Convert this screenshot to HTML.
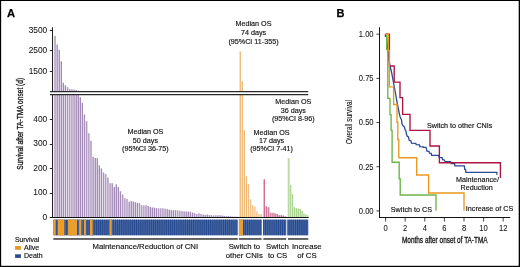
<!DOCTYPE html>
<html><head><meta charset="utf-8"><style>
html,body{margin:0;padding:0;background:#fff;width:520px;height:267px;overflow:hidden}
svg text{font-family:"Liberation Sans",sans-serif}
svg{will-change:transform}
svg text{stroke:#111;stroke-width:0.15px}
svg text.c{stroke-width:0.3px}
svg text.c2{stroke-width:0.12px}
svg text.t{stroke-width:0.05px}
svg text.b{stroke:#000;stroke-width:0.25px}
</style></head><body>
<svg width="520" height="267" viewBox="0 0 520 267" style="position:absolute;left:0;top:0">
<rect x="0" y="0" width="520" height="267" fill="#fff"/>
<rect x="53.75" y="95.10" width="1.7" height="122.40" fill="#d5c8df"/>
<rect x="54.80" y="95.10" width="0.65" height="122.40" fill="#8566a0"/>
<rect x="53.75" y="35.91" width="1.7" height="55.59" fill="#d5c8df"/>
<rect x="54.80" y="35.91" width="0.65" height="55.59" fill="#8566a0"/>
<rect x="55.87" y="95.10" width="1.7" height="122.40" fill="#d5c8df"/>
<rect x="56.92" y="95.10" width="0.65" height="122.40" fill="#8566a0"/>
<rect x="55.87" y="44.53" width="1.7" height="46.97" fill="#d5c8df"/>
<rect x="56.92" y="44.53" width="0.65" height="46.97" fill="#8566a0"/>
<rect x="57.98" y="95.10" width="1.7" height="122.40" fill="#d5c8df"/>
<rect x="59.03" y="95.10" width="0.65" height="122.40" fill="#8566a0"/>
<rect x="57.98" y="49.84" width="1.7" height="41.66" fill="#d5c8df"/>
<rect x="59.03" y="49.84" width="0.65" height="41.66" fill="#8566a0"/>
<rect x="60.10" y="95.10" width="1.7" height="122.40" fill="#d5c8df"/>
<rect x="61.15" y="95.10" width="0.65" height="122.40" fill="#8566a0"/>
<rect x="60.10" y="61.45" width="1.7" height="30.05" fill="#d5c8df"/>
<rect x="61.15" y="61.45" width="0.65" height="30.05" fill="#8566a0"/>
<rect x="62.22" y="95.10" width="1.7" height="122.40" fill="#d5c8df"/>
<rect x="63.27" y="95.10" width="0.65" height="122.40" fill="#8566a0"/>
<rect x="62.22" y="82.78" width="1.7" height="8.72" fill="#d5c8df"/>
<rect x="63.27" y="82.78" width="0.65" height="8.72" fill="#8566a0"/>
<rect x="64.33" y="95.10" width="1.7" height="122.40" fill="#d5c8df"/>
<rect x="65.38" y="95.10" width="0.65" height="122.40" fill="#8566a0"/>
<rect x="64.33" y="85.20" width="1.7" height="6.30" fill="#d5c8df"/>
<rect x="65.38" y="85.20" width="0.65" height="6.30" fill="#8566a0"/>
<rect x="66.45" y="95.10" width="1.7" height="122.40" fill="#d5c8df"/>
<rect x="67.50" y="95.10" width="0.65" height="122.40" fill="#8566a0"/>
<rect x="66.45" y="87.19" width="1.7" height="4.31" fill="#d5c8df"/>
<rect x="67.50" y="87.19" width="0.65" height="4.31" fill="#8566a0"/>
<rect x="68.56" y="95.10" width="1.7" height="122.40" fill="#d5c8df"/>
<rect x="69.61" y="95.10" width="0.65" height="122.40" fill="#8566a0"/>
<rect x="68.56" y="89.10" width="1.7" height="2.40" fill="#d5c8df"/>
<rect x="69.61" y="89.10" width="0.65" height="2.40" fill="#8566a0"/>
<rect x="70.68" y="95.10" width="1.7" height="122.40" fill="#d5c8df"/>
<rect x="71.73" y="95.10" width="0.65" height="122.40" fill="#8566a0"/>
<rect x="70.68" y="89.26" width="1.7" height="2.24" fill="#d5c8df"/>
<rect x="71.73" y="89.26" width="0.65" height="2.24" fill="#8566a0"/>
<rect x="72.80" y="95.10" width="1.7" height="122.40" fill="#d5c8df"/>
<rect x="73.85" y="95.10" width="0.65" height="122.40" fill="#8566a0"/>
<rect x="72.80" y="89.69" width="1.7" height="1.81" fill="#d5c8df"/>
<rect x="73.85" y="89.69" width="0.65" height="1.81" fill="#8566a0"/>
<rect x="74.91" y="95.10" width="1.7" height="122.40" fill="#d5c8df"/>
<rect x="75.96" y="95.10" width="0.65" height="122.40" fill="#8566a0"/>
<rect x="74.91" y="90.10" width="1.7" height="1.40" fill="#d5c8df"/>
<rect x="75.96" y="90.10" width="0.65" height="1.40" fill="#8566a0"/>
<rect x="77.03" y="95.10" width="1.7" height="122.40" fill="#d5c8df"/>
<rect x="78.08" y="95.10" width="0.65" height="122.40" fill="#8566a0"/>
<rect x="77.03" y="90.71" width="1.7" height="0.79" fill="#d5c8df"/>
<rect x="78.08" y="90.71" width="0.65" height="0.79" fill="#8566a0"/>
<rect x="79.15" y="97.20" width="1.7" height="120.30" fill="#d5c8df"/>
<rect x="80.20" y="97.20" width="0.65" height="120.30" fill="#8566a0"/>
<rect x="81.26" y="102.84" width="1.7" height="114.66" fill="#d5c8df"/>
<rect x="82.31" y="102.84" width="0.65" height="114.66" fill="#8566a0"/>
<rect x="83.38" y="114.60" width="1.7" height="102.90" fill="#d5c8df"/>
<rect x="84.43" y="114.60" width="0.65" height="102.90" fill="#8566a0"/>
<rect x="85.49" y="121.22" width="1.7" height="96.28" fill="#d5c8df"/>
<rect x="86.54" y="121.22" width="0.65" height="96.28" fill="#8566a0"/>
<rect x="87.61" y="133.22" width="1.7" height="84.28" fill="#d5c8df"/>
<rect x="88.66" y="133.22" width="0.65" height="84.28" fill="#8566a0"/>
<rect x="89.73" y="140.81" width="1.7" height="76.69" fill="#d5c8df"/>
<rect x="90.78" y="140.81" width="0.65" height="76.69" fill="#8566a0"/>
<rect x="91.84" y="156.74" width="1.7" height="60.76" fill="#d5c8df"/>
<rect x="92.89" y="156.74" width="0.65" height="60.76" fill="#8566a0"/>
<rect x="93.96" y="157.97" width="1.7" height="59.53" fill="#d5c8df"/>
<rect x="95.01" y="157.97" width="0.65" height="59.53" fill="#8566a0"/>
<rect x="96.08" y="158.21" width="1.7" height="59.29" fill="#d5c8df"/>
<rect x="97.13" y="158.21" width="0.65" height="59.29" fill="#8566a0"/>
<rect x="98.19" y="165.31" width="1.7" height="52.19" fill="#d5c8df"/>
<rect x="99.24" y="165.31" width="0.65" height="52.19" fill="#8566a0"/>
<rect x="100.31" y="168.50" width="1.7" height="49.00" fill="#d5c8df"/>
<rect x="101.36" y="168.50" width="0.65" height="49.00" fill="#8566a0"/>
<rect x="102.42" y="172.42" width="1.7" height="45.08" fill="#d5c8df"/>
<rect x="103.47" y="172.42" width="0.65" height="45.08" fill="#8566a0"/>
<rect x="104.54" y="174.13" width="1.7" height="43.37" fill="#d5c8df"/>
<rect x="105.59" y="174.13" width="0.65" height="43.37" fill="#8566a0"/>
<rect x="106.66" y="177.56" width="1.7" height="39.94" fill="#d5c8df"/>
<rect x="107.71" y="177.56" width="0.65" height="39.94" fill="#8566a0"/>
<rect x="108.77" y="183.20" width="1.7" height="34.30" fill="#d5c8df"/>
<rect x="109.82" y="183.20" width="0.65" height="34.30" fill="#8566a0"/>
<rect x="110.89" y="183.20" width="1.7" height="34.30" fill="#d5c8df"/>
<rect x="111.94" y="183.20" width="0.65" height="34.30" fill="#8566a0"/>
<rect x="113.01" y="187.12" width="1.7" height="30.38" fill="#d5c8df"/>
<rect x="114.06" y="187.12" width="0.65" height="30.38" fill="#8566a0"/>
<rect x="115.12" y="184.43" width="1.7" height="33.07" fill="#d5c8df"/>
<rect x="116.17" y="184.43" width="0.65" height="33.07" fill="#8566a0"/>
<rect x="117.24" y="187.12" width="1.7" height="30.38" fill="#d5c8df"/>
<rect x="118.29" y="187.12" width="0.65" height="30.38" fill="#8566a0"/>
<rect x="119.35" y="191.28" width="1.7" height="26.22" fill="#d5c8df"/>
<rect x="120.40" y="191.28" width="0.65" height="26.22" fill="#8566a0"/>
<rect x="121.47" y="194.47" width="1.7" height="23.03" fill="#d5c8df"/>
<rect x="122.52" y="194.47" width="0.65" height="23.03" fill="#8566a0"/>
<rect x="123.59" y="198.15" width="1.7" height="19.35" fill="#d5c8df"/>
<rect x="124.64" y="198.15" width="0.65" height="19.35" fill="#8566a0"/>
<rect x="125.70" y="199.12" width="1.7" height="18.38" fill="#d5c8df"/>
<rect x="126.75" y="199.12" width="0.65" height="18.38" fill="#8566a0"/>
<rect x="127.82" y="201.82" width="1.7" height="15.68" fill="#d5c8df"/>
<rect x="128.87" y="201.82" width="0.65" height="15.68" fill="#8566a0"/>
<rect x="129.94" y="201.09" width="1.7" height="16.41" fill="#d5c8df"/>
<rect x="130.99" y="201.09" width="0.65" height="16.41" fill="#8566a0"/>
<rect x="132.05" y="201.57" width="1.7" height="15.93" fill="#d5c8df"/>
<rect x="133.10" y="201.57" width="0.65" height="15.93" fill="#8566a0"/>
<rect x="134.17" y="202.31" width="1.7" height="15.19" fill="#d5c8df"/>
<rect x="135.22" y="202.31" width="0.65" height="15.19" fill="#8566a0"/>
<rect x="136.28" y="202.80" width="1.7" height="14.70" fill="#d5c8df"/>
<rect x="137.33" y="202.80" width="0.65" height="14.70" fill="#8566a0"/>
<rect x="138.40" y="203.17" width="1.7" height="14.33" fill="#d5c8df"/>
<rect x="139.45" y="203.17" width="0.65" height="14.33" fill="#8566a0"/>
<rect x="140.52" y="205.25" width="1.7" height="12.25" fill="#d5c8df"/>
<rect x="141.57" y="205.25" width="0.65" height="12.25" fill="#8566a0"/>
<rect x="142.63" y="205.37" width="1.7" height="12.13" fill="#d5c8df"/>
<rect x="143.68" y="205.37" width="0.65" height="12.13" fill="#8566a0"/>
<rect x="144.75" y="205.25" width="1.7" height="12.25" fill="#d5c8df"/>
<rect x="145.80" y="205.25" width="0.65" height="12.25" fill="#8566a0"/>
<rect x="146.87" y="205.99" width="1.7" height="11.51" fill="#d5c8df"/>
<rect x="147.92" y="205.99" width="0.65" height="11.51" fill="#8566a0"/>
<rect x="148.98" y="206.97" width="1.7" height="10.53" fill="#d5c8df"/>
<rect x="150.03" y="206.97" width="0.65" height="10.53" fill="#8566a0"/>
<rect x="151.10" y="207.46" width="1.7" height="10.04" fill="#d5c8df"/>
<rect x="152.15" y="207.46" width="0.65" height="10.04" fill="#8566a0"/>
<rect x="153.22" y="207.70" width="1.7" height="9.80" fill="#d5c8df"/>
<rect x="154.27" y="207.70" width="0.65" height="9.80" fill="#8566a0"/>
<rect x="155.33" y="208.07" width="1.7" height="9.43" fill="#d5c8df"/>
<rect x="156.38" y="208.07" width="0.65" height="9.43" fill="#8566a0"/>
<rect x="157.45" y="208.31" width="1.7" height="9.19" fill="#d5c8df"/>
<rect x="158.50" y="208.31" width="0.65" height="9.19" fill="#8566a0"/>
<rect x="159.56" y="208.31" width="1.7" height="9.19" fill="#d5c8df"/>
<rect x="160.61" y="208.31" width="0.65" height="9.19" fill="#8566a0"/>
<rect x="161.68" y="208.31" width="1.7" height="9.19" fill="#d5c8df"/>
<rect x="162.73" y="208.31" width="0.65" height="9.19" fill="#8566a0"/>
<rect x="163.80" y="208.78" width="1.7" height="8.72" fill="#d5c8df"/>
<rect x="164.85" y="208.78" width="0.65" height="8.72" fill="#8566a0"/>
<rect x="165.91" y="209.17" width="1.7" height="8.33" fill="#d5c8df"/>
<rect x="166.96" y="209.17" width="0.65" height="8.33" fill="#8566a0"/>
<rect x="168.03" y="209.66" width="1.7" height="7.84" fill="#d5c8df"/>
<rect x="169.08" y="209.66" width="0.65" height="7.84" fill="#8566a0"/>
<rect x="170.15" y="210.15" width="1.7" height="7.35" fill="#d5c8df"/>
<rect x="171.20" y="210.15" width="0.65" height="7.35" fill="#8566a0"/>
<rect x="172.26" y="210.15" width="1.7" height="7.35" fill="#d5c8df"/>
<rect x="173.31" y="210.15" width="0.65" height="7.35" fill="#8566a0"/>
<rect x="174.38" y="210.15" width="1.7" height="7.35" fill="#d5c8df"/>
<rect x="175.43" y="210.15" width="0.65" height="7.35" fill="#8566a0"/>
<rect x="176.49" y="210.40" width="1.7" height="7.10" fill="#d5c8df"/>
<rect x="177.54" y="210.40" width="0.65" height="7.10" fill="#8566a0"/>
<rect x="178.61" y="210.64" width="1.7" height="6.86" fill="#d5c8df"/>
<rect x="179.66" y="210.64" width="0.65" height="6.86" fill="#8566a0"/>
<rect x="180.73" y="211.13" width="1.7" height="6.37" fill="#d5c8df"/>
<rect x="181.78" y="211.13" width="0.65" height="6.37" fill="#8566a0"/>
<rect x="182.84" y="211.38" width="1.7" height="6.12" fill="#d5c8df"/>
<rect x="183.89" y="211.38" width="0.65" height="6.12" fill="#8566a0"/>
<rect x="184.96" y="211.50" width="1.7" height="6.00" fill="#d5c8df"/>
<rect x="186.01" y="211.50" width="0.65" height="6.00" fill="#8566a0"/>
<rect x="187.08" y="211.62" width="1.7" height="5.88" fill="#d5c8df"/>
<rect x="188.13" y="211.62" width="0.65" height="5.88" fill="#8566a0"/>
<rect x="189.19" y="211.87" width="1.7" height="5.63" fill="#d5c8df"/>
<rect x="190.24" y="211.87" width="0.65" height="5.63" fill="#8566a0"/>
<rect x="191.31" y="212.60" width="1.7" height="4.90" fill="#d5c8df"/>
<rect x="192.36" y="212.60" width="0.65" height="4.90" fill="#8566a0"/>
<rect x="193.42" y="213.09" width="1.7" height="4.41" fill="#d5c8df"/>
<rect x="194.47" y="213.09" width="0.65" height="4.41" fill="#8566a0"/>
<rect x="195.54" y="214.07" width="1.7" height="3.43" fill="#d5c8df"/>
<rect x="196.59" y="214.07" width="0.65" height="3.43" fill="#8566a0"/>
<rect x="197.66" y="213.34" width="1.7" height="4.16" fill="#d5c8df"/>
<rect x="198.71" y="213.34" width="0.65" height="4.16" fill="#8566a0"/>
<rect x="199.77" y="214.07" width="1.7" height="3.43" fill="#d5c8df"/>
<rect x="200.82" y="214.07" width="0.65" height="3.43" fill="#8566a0"/>
<rect x="201.89" y="214.56" width="1.7" height="2.94" fill="#d5c8df"/>
<rect x="202.94" y="214.56" width="0.65" height="2.94" fill="#8566a0"/>
<rect x="204.01" y="215.05" width="1.7" height="2.45" fill="#d5c8df"/>
<rect x="205.06" y="215.05" width="0.65" height="2.45" fill="#8566a0"/>
<rect x="206.12" y="214.56" width="1.7" height="2.94" fill="#d5c8df"/>
<rect x="207.17" y="214.56" width="0.65" height="2.94" fill="#8566a0"/>
<rect x="208.24" y="215.05" width="1.7" height="2.45" fill="#d5c8df"/>
<rect x="209.29" y="215.05" width="0.65" height="2.45" fill="#8566a0"/>
<rect x="210.35" y="215.20" width="1.7" height="2.30" fill="#d5c8df"/>
<rect x="211.40" y="215.20" width="0.65" height="2.30" fill="#8566a0"/>
<rect x="212.47" y="215.54" width="1.7" height="1.96" fill="#d5c8df"/>
<rect x="213.52" y="215.54" width="0.65" height="1.96" fill="#8566a0"/>
<rect x="214.59" y="215.29" width="1.7" height="2.21" fill="#d5c8df"/>
<rect x="215.64" y="215.29" width="0.65" height="2.21" fill="#8566a0"/>
<rect x="216.70" y="215.29" width="1.7" height="2.21" fill="#d5c8df"/>
<rect x="217.75" y="215.29" width="0.65" height="2.21" fill="#8566a0"/>
<rect x="218.82" y="215.29" width="1.7" height="2.21" fill="#d5c8df"/>
<rect x="219.87" y="215.29" width="0.65" height="2.21" fill="#8566a0"/>
<rect x="220.94" y="215.54" width="1.7" height="1.96" fill="#d5c8df"/>
<rect x="221.99" y="215.54" width="0.65" height="1.96" fill="#8566a0"/>
<rect x="223.05" y="215.91" width="1.7" height="1.59" fill="#d5c8df"/>
<rect x="224.10" y="215.91" width="0.65" height="1.59" fill="#8566a0"/>
<rect x="225.17" y="216.28" width="1.7" height="1.22" fill="#d5c8df"/>
<rect x="226.22" y="216.28" width="0.65" height="1.22" fill="#8566a0"/>
<rect x="227.28" y="215.91" width="1.7" height="1.59" fill="#d5c8df"/>
<rect x="228.33" y="215.91" width="0.65" height="1.59" fill="#8566a0"/>
<rect x="229.40" y="216.28" width="1.7" height="1.22" fill="#d5c8df"/>
<rect x="230.45" y="216.28" width="0.65" height="1.22" fill="#8566a0"/>
<rect x="231.52" y="216.59" width="1.7" height="0.91" fill="#d5c8df"/>
<rect x="232.57" y="216.59" width="0.65" height="0.91" fill="#8566a0"/>
<rect x="233.63" y="216.64" width="1.7" height="0.86" fill="#d5c8df"/>
<rect x="234.68" y="216.64" width="0.65" height="0.86" fill="#8566a0"/>
<rect x="235.75" y="216.76" width="1.7" height="0.74" fill="#d5c8df"/>
<rect x="236.80" y="216.76" width="0.65" height="0.74" fill="#8566a0"/>
<rect x="239.09" y="95.10" width="1.7" height="122.40" fill="#f8dfbc"/>
<rect x="240.14" y="95.10" width="0.65" height="122.40" fill="#eaa855"/>
<rect x="239.09" y="51.34" width="1.7" height="40.16" fill="#f8dfbc"/>
<rect x="240.14" y="51.34" width="0.65" height="40.16" fill="#eaa855"/>
<rect x="241.16" y="95.10" width="1.7" height="122.40" fill="#f8dfbc"/>
<rect x="242.21" y="95.10" width="0.65" height="122.40" fill="#eaa855"/>
<rect x="241.16" y="81.09" width="1.7" height="10.41" fill="#f8dfbc"/>
<rect x="242.21" y="81.09" width="0.65" height="10.41" fill="#eaa855"/>
<rect x="243.23" y="130.03" width="1.7" height="87.47" fill="#f8dfbc"/>
<rect x="244.28" y="130.03" width="0.65" height="87.47" fill="#eaa855"/>
<rect x="245.30" y="176.34" width="1.7" height="41.16" fill="#f8dfbc"/>
<rect x="246.35" y="176.34" width="0.65" height="41.16" fill="#eaa855"/>
<rect x="247.38" y="183.94" width="1.7" height="33.56" fill="#f8dfbc"/>
<rect x="248.43" y="183.94" width="0.65" height="33.56" fill="#eaa855"/>
<rect x="249.45" y="199.37" width="1.7" height="18.13" fill="#f8dfbc"/>
<rect x="250.50" y="199.37" width="0.65" height="18.13" fill="#eaa855"/>
<rect x="251.52" y="205.25" width="1.7" height="12.25" fill="#f8dfbc"/>
<rect x="252.57" y="205.25" width="0.65" height="12.25" fill="#eaa855"/>
<rect x="253.60" y="206.47" width="1.7" height="11.03" fill="#f8dfbc"/>
<rect x="254.65" y="206.47" width="0.65" height="11.03" fill="#eaa855"/>
<rect x="255.67" y="211.38" width="1.7" height="6.12" fill="#f8dfbc"/>
<rect x="256.72" y="211.38" width="0.65" height="6.12" fill="#eaa855"/>
<rect x="257.74" y="213.95" width="1.7" height="3.55" fill="#f8dfbc"/>
<rect x="258.79" y="213.95" width="0.65" height="3.55" fill="#eaa855"/>
<rect x="259.81" y="214.31" width="1.7" height="3.19" fill="#f8dfbc"/>
<rect x="260.86" y="214.31" width="0.65" height="3.19" fill="#eaa855"/>
<rect x="263.30" y="179.28" width="1.7" height="38.22" fill="#e3a2ba"/>
<rect x="264.35" y="179.28" width="0.65" height="38.22" fill="#c4537c"/>
<rect x="265.41" y="206.23" width="1.7" height="11.27" fill="#e3a2ba"/>
<rect x="266.46" y="206.23" width="0.65" height="11.27" fill="#c4537c"/>
<rect x="267.52" y="207.21" width="1.7" height="10.29" fill="#e3a2ba"/>
<rect x="268.57" y="207.21" width="0.65" height="10.29" fill="#c4537c"/>
<rect x="269.63" y="212.84" width="1.7" height="4.66" fill="#e3a2ba"/>
<rect x="270.68" y="212.84" width="0.65" height="4.66" fill="#c4537c"/>
<rect x="271.74" y="212.84" width="1.7" height="4.66" fill="#e3a2ba"/>
<rect x="272.79" y="212.84" width="0.65" height="4.66" fill="#c4537c"/>
<rect x="273.85" y="213.34" width="1.7" height="4.16" fill="#e3a2ba"/>
<rect x="274.90" y="213.34" width="0.65" height="4.16" fill="#c4537c"/>
<rect x="275.96" y="214.07" width="1.7" height="3.43" fill="#e3a2ba"/>
<rect x="277.01" y="214.07" width="0.65" height="3.43" fill="#c4537c"/>
<rect x="278.07" y="215.20" width="1.7" height="2.30" fill="#e3a2ba"/>
<rect x="279.12" y="215.20" width="0.65" height="2.30" fill="#c4537c"/>
<rect x="280.18" y="215.20" width="1.7" height="2.30" fill="#e3a2ba"/>
<rect x="281.23" y="215.20" width="0.65" height="2.30" fill="#c4537c"/>
<rect x="282.29" y="215.59" width="1.7" height="1.91" fill="#e3a2ba"/>
<rect x="283.34" y="215.59" width="0.65" height="1.91" fill="#c4537c"/>
<rect x="284.40" y="216.28" width="1.7" height="1.22" fill="#e3a2ba"/>
<rect x="285.45" y="216.28" width="0.65" height="1.22" fill="#c4537c"/>
<rect x="287.60" y="158.21" width="1.7" height="59.29" fill="#d3e7c2"/>
<rect x="288.65" y="158.21" width="0.65" height="59.29" fill="#8cc46c"/>
<rect x="289.49" y="184.91" width="1.7" height="32.59" fill="#d3e7c2"/>
<rect x="290.54" y="184.91" width="0.65" height="32.59" fill="#8cc46c"/>
<rect x="291.38" y="193.98" width="1.7" height="23.52" fill="#d3e7c2"/>
<rect x="292.43" y="193.98" width="0.65" height="23.52" fill="#8cc46c"/>
<rect x="293.27" y="207.21" width="1.7" height="10.29" fill="#d3e7c2"/>
<rect x="294.32" y="207.21" width="0.65" height="10.29" fill="#8cc46c"/>
<rect x="295.16" y="208.07" width="1.7" height="9.43" fill="#d3e7c2"/>
<rect x="296.21" y="208.07" width="0.65" height="9.43" fill="#8cc46c"/>
<rect x="297.05" y="208.68" width="1.7" height="8.82" fill="#d3e7c2"/>
<rect x="298.10" y="208.68" width="0.65" height="8.82" fill="#8cc46c"/>
<rect x="298.94" y="209.17" width="1.7" height="8.33" fill="#d3e7c2"/>
<rect x="299.99" y="209.17" width="0.65" height="8.33" fill="#8cc46c"/>
<rect x="300.83" y="210.76" width="1.7" height="6.74" fill="#d3e7c2"/>
<rect x="301.88" y="210.76" width="0.65" height="6.74" fill="#8cc46c"/>
<rect x="302.72" y="213.82" width="1.7" height="3.68" fill="#d3e7c2"/>
<rect x="303.77" y="213.82" width="0.65" height="3.68" fill="#8cc46c"/>
<rect x="304.61" y="214.31" width="1.7" height="3.19" fill="#d3e7c2"/>
<rect x="305.66" y="214.31" width="0.65" height="3.19" fill="#8cc46c"/>
<rect x="306.50" y="215.29" width="1.7" height="2.21" fill="#d3e7c2"/>
<rect x="307.55" y="215.29" width="0.65" height="2.21" fill="#8cc46c"/>
<line x1="52.5" y1="27.2" x2="52.5" y2="91.5" stroke="#222" stroke-width="1"/>
<line x1="52.5" y1="94.5" x2="52.5" y2="218.0" stroke="#222" stroke-width="1"/>
<line x1="50" y1="91.6" x2="308.3" y2="91.6" stroke="#2a2a2a" stroke-width="1.35"/>
<line x1="50" y1="94.6" x2="308.3" y2="94.6" stroke="#2a2a2a" stroke-width="1.35"/>
<line x1="52.0" y1="217.5" x2="308.7" y2="217.5" stroke="#111" stroke-width="1"/>
<line x1="49.8" y1="30.50" x2="52.5" y2="30.50" stroke="#222" stroke-width="1"/>
<text transform="translate(47.2,32.90) scale(0.96,1)" font-size="8.7" text-anchor="end" fill="#111" class="t">3500</text>
<line x1="49.8" y1="50.50" x2="52.5" y2="50.50" stroke="#222" stroke-width="1"/>
<text transform="translate(47.2,53.23) scale(0.96,1)" font-size="8.7" text-anchor="end" fill="#111" class="t">2500</text>
<line x1="49.8" y1="71.50" x2="52.5" y2="71.50" stroke="#222" stroke-width="1"/>
<text transform="translate(47.2,73.57) scale(0.96,1)" font-size="8.7" text-anchor="end" fill="#111" class="t">1500</text>
<line x1="49.8" y1="119.50" x2="52.5" y2="119.50" stroke="#222" stroke-width="1"/>
<text transform="translate(47.2,121.90) scale(0.96,1)" font-size="8.7" text-anchor="end" fill="#111" class="t">400</text>
<line x1="49.8" y1="144.50" x2="52.5" y2="144.50" stroke="#222" stroke-width="1"/>
<text transform="translate(47.2,146.40) scale(0.96,1)" font-size="8.7" text-anchor="end" fill="#111" class="t">300</text>
<line x1="49.8" y1="168.50" x2="52.5" y2="168.50" stroke="#222" stroke-width="1"/>
<text transform="translate(47.2,170.90) scale(0.96,1)" font-size="8.7" text-anchor="end" fill="#111" class="t">200</text>
<line x1="49.8" y1="193.50" x2="52.5" y2="193.50" stroke="#222" stroke-width="1"/>
<text transform="translate(47.2,195.40) scale(0.96,1)" font-size="8.7" text-anchor="end" fill="#111" class="t">100</text>
<line x1="49.8" y1="217.50" x2="52.5" y2="217.50" stroke="#222" stroke-width="1"/>
<text transform="translate(47.2,219.90) scale(0.96,1)" font-size="8.7" text-anchor="end" fill="#111" class="t">0</text>
<rect x="53.6" y="219.6" width="184.20" height="15.70" fill="#4565a0"/>
<rect x="238.9" y="219.6" width="22.90" height="15.70" fill="#4565a0"/>
<rect x="263.1" y="219.6" width="23.20" height="15.70" fill="#4565a0"/>
<rect x="287.5" y="219.6" width="20.80" height="15.70" fill="#4565a0"/>
<rect x="53.70" y="219.6" width="0.7" height="15.70" fill="#1b408a"/>
<rect x="55.82" y="219.6" width="0.7" height="15.70" fill="#1b408a"/>
<rect x="57.93" y="219.6" width="0.7" height="15.70" fill="#1b408a"/>
<rect x="60.05" y="219.6" width="0.7" height="15.70" fill="#1b408a"/>
<rect x="62.17" y="219.6" width="0.7" height="15.70" fill="#1b408a"/>
<rect x="64.28" y="219.6" width="0.7" height="15.70" fill="#1b408a"/>
<rect x="66.40" y="219.6" width="0.7" height="15.70" fill="#1b408a"/>
<rect x="68.51" y="219.6" width="0.7" height="15.70" fill="#1b408a"/>
<rect x="70.63" y="219.6" width="0.7" height="15.70" fill="#1b408a"/>
<rect x="72.75" y="219.6" width="0.7" height="15.70" fill="#1b408a"/>
<rect x="74.86" y="219.6" width="0.7" height="15.70" fill="#1b408a"/>
<rect x="76.98" y="219.6" width="0.7" height="15.70" fill="#1b408a"/>
<rect x="79.10" y="219.6" width="0.7" height="15.70" fill="#1b408a"/>
<rect x="81.21" y="219.6" width="0.7" height="15.70" fill="#1b408a"/>
<rect x="83.33" y="219.6" width="0.7" height="15.70" fill="#1b408a"/>
<rect x="85.44" y="219.6" width="0.7" height="15.70" fill="#1b408a"/>
<rect x="87.56" y="219.6" width="0.7" height="15.70" fill="#1b408a"/>
<rect x="89.68" y="219.6" width="0.7" height="15.70" fill="#1b408a"/>
<rect x="91.79" y="219.6" width="0.7" height="15.70" fill="#1b408a"/>
<rect x="93.91" y="219.6" width="0.7" height="15.70" fill="#1b408a"/>
<rect x="96.03" y="219.6" width="0.7" height="15.70" fill="#1b408a"/>
<rect x="98.14" y="219.6" width="0.7" height="15.70" fill="#1b408a"/>
<rect x="100.26" y="219.6" width="0.7" height="15.70" fill="#1b408a"/>
<rect x="102.37" y="219.6" width="0.7" height="15.70" fill="#1b408a"/>
<rect x="104.49" y="219.6" width="0.7" height="15.70" fill="#1b408a"/>
<rect x="106.61" y="219.6" width="0.7" height="15.70" fill="#1b408a"/>
<rect x="108.72" y="219.6" width="0.7" height="15.70" fill="#1b408a"/>
<rect x="110.84" y="219.6" width="0.7" height="15.70" fill="#1b408a"/>
<rect x="112.96" y="219.6" width="0.7" height="15.70" fill="#1b408a"/>
<rect x="115.07" y="219.6" width="0.7" height="15.70" fill="#1b408a"/>
<rect x="117.19" y="219.6" width="0.7" height="15.70" fill="#1b408a"/>
<rect x="119.30" y="219.6" width="0.7" height="15.70" fill="#1b408a"/>
<rect x="121.42" y="219.6" width="0.7" height="15.70" fill="#1b408a"/>
<rect x="123.54" y="219.6" width="0.7" height="15.70" fill="#1b408a"/>
<rect x="125.65" y="219.6" width="0.7" height="15.70" fill="#1b408a"/>
<rect x="127.77" y="219.6" width="0.7" height="15.70" fill="#1b408a"/>
<rect x="129.89" y="219.6" width="0.7" height="15.70" fill="#1b408a"/>
<rect x="132.00" y="219.6" width="0.7" height="15.70" fill="#1b408a"/>
<rect x="134.12" y="219.6" width="0.7" height="15.70" fill="#1b408a"/>
<rect x="136.23" y="219.6" width="0.7" height="15.70" fill="#1b408a"/>
<rect x="138.35" y="219.6" width="0.7" height="15.70" fill="#1b408a"/>
<rect x="140.47" y="219.6" width="0.7" height="15.70" fill="#1b408a"/>
<rect x="142.58" y="219.6" width="0.7" height="15.70" fill="#1b408a"/>
<rect x="144.70" y="219.6" width="0.7" height="15.70" fill="#1b408a"/>
<rect x="146.82" y="219.6" width="0.7" height="15.70" fill="#1b408a"/>
<rect x="148.93" y="219.6" width="0.7" height="15.70" fill="#1b408a"/>
<rect x="151.05" y="219.6" width="0.7" height="15.70" fill="#1b408a"/>
<rect x="153.17" y="219.6" width="0.7" height="15.70" fill="#1b408a"/>
<rect x="155.28" y="219.6" width="0.7" height="15.70" fill="#1b408a"/>
<rect x="157.40" y="219.6" width="0.7" height="15.70" fill="#1b408a"/>
<rect x="159.51" y="219.6" width="0.7" height="15.70" fill="#1b408a"/>
<rect x="161.63" y="219.6" width="0.7" height="15.70" fill="#1b408a"/>
<rect x="163.75" y="219.6" width="0.7" height="15.70" fill="#1b408a"/>
<rect x="165.86" y="219.6" width="0.7" height="15.70" fill="#1b408a"/>
<rect x="167.98" y="219.6" width="0.7" height="15.70" fill="#1b408a"/>
<rect x="170.10" y="219.6" width="0.7" height="15.70" fill="#1b408a"/>
<rect x="172.21" y="219.6" width="0.7" height="15.70" fill="#1b408a"/>
<rect x="174.33" y="219.6" width="0.7" height="15.70" fill="#1b408a"/>
<rect x="176.44" y="219.6" width="0.7" height="15.70" fill="#1b408a"/>
<rect x="178.56" y="219.6" width="0.7" height="15.70" fill="#1b408a"/>
<rect x="180.68" y="219.6" width="0.7" height="15.70" fill="#1b408a"/>
<rect x="182.79" y="219.6" width="0.7" height="15.70" fill="#1b408a"/>
<rect x="184.91" y="219.6" width="0.7" height="15.70" fill="#1b408a"/>
<rect x="187.03" y="219.6" width="0.7" height="15.70" fill="#1b408a"/>
<rect x="189.14" y="219.6" width="0.7" height="15.70" fill="#1b408a"/>
<rect x="191.26" y="219.6" width="0.7" height="15.70" fill="#1b408a"/>
<rect x="193.37" y="219.6" width="0.7" height="15.70" fill="#1b408a"/>
<rect x="195.49" y="219.6" width="0.7" height="15.70" fill="#1b408a"/>
<rect x="197.61" y="219.6" width="0.7" height="15.70" fill="#1b408a"/>
<rect x="199.72" y="219.6" width="0.7" height="15.70" fill="#1b408a"/>
<rect x="201.84" y="219.6" width="0.7" height="15.70" fill="#1b408a"/>
<rect x="203.96" y="219.6" width="0.7" height="15.70" fill="#1b408a"/>
<rect x="206.07" y="219.6" width="0.7" height="15.70" fill="#1b408a"/>
<rect x="208.19" y="219.6" width="0.7" height="15.70" fill="#1b408a"/>
<rect x="210.30" y="219.6" width="0.7" height="15.70" fill="#1b408a"/>
<rect x="212.42" y="219.6" width="0.7" height="15.70" fill="#1b408a"/>
<rect x="214.54" y="219.6" width="0.7" height="15.70" fill="#1b408a"/>
<rect x="216.65" y="219.6" width="0.7" height="15.70" fill="#1b408a"/>
<rect x="218.77" y="219.6" width="0.7" height="15.70" fill="#1b408a"/>
<rect x="220.89" y="219.6" width="0.7" height="15.70" fill="#1b408a"/>
<rect x="223.00" y="219.6" width="0.7" height="15.70" fill="#1b408a"/>
<rect x="225.12" y="219.6" width="0.7" height="15.70" fill="#1b408a"/>
<rect x="227.23" y="219.6" width="0.7" height="15.70" fill="#1b408a"/>
<rect x="229.35" y="219.6" width="0.7" height="15.70" fill="#1b408a"/>
<rect x="231.47" y="219.6" width="0.7" height="15.70" fill="#1b408a"/>
<rect x="233.58" y="219.6" width="0.7" height="15.70" fill="#1b408a"/>
<rect x="235.70" y="219.6" width="0.7" height="15.70" fill="#1b408a"/>
<rect x="239.04" y="219.6" width="0.7" height="15.70" fill="#1b408a"/>
<rect x="241.11" y="219.6" width="0.7" height="15.70" fill="#1b408a"/>
<rect x="243.18" y="219.6" width="0.7" height="15.70" fill="#1b408a"/>
<rect x="245.25" y="219.6" width="0.7" height="15.70" fill="#1b408a"/>
<rect x="247.33" y="219.6" width="0.7" height="15.70" fill="#1b408a"/>
<rect x="249.40" y="219.6" width="0.7" height="15.70" fill="#1b408a"/>
<rect x="251.47" y="219.6" width="0.7" height="15.70" fill="#1b408a"/>
<rect x="253.55" y="219.6" width="0.7" height="15.70" fill="#1b408a"/>
<rect x="255.62" y="219.6" width="0.7" height="15.70" fill="#1b408a"/>
<rect x="257.69" y="219.6" width="0.7" height="15.70" fill="#1b408a"/>
<rect x="259.76" y="219.6" width="0.7" height="15.70" fill="#1b408a"/>
<rect x="263.25" y="219.6" width="0.7" height="15.70" fill="#1b408a"/>
<rect x="265.36" y="219.6" width="0.7" height="15.70" fill="#1b408a"/>
<rect x="267.47" y="219.6" width="0.7" height="15.70" fill="#1b408a"/>
<rect x="269.58" y="219.6" width="0.7" height="15.70" fill="#1b408a"/>
<rect x="271.69" y="219.6" width="0.7" height="15.70" fill="#1b408a"/>
<rect x="273.80" y="219.6" width="0.7" height="15.70" fill="#1b408a"/>
<rect x="275.91" y="219.6" width="0.7" height="15.70" fill="#1b408a"/>
<rect x="278.02" y="219.6" width="0.7" height="15.70" fill="#1b408a"/>
<rect x="280.13" y="219.6" width="0.7" height="15.70" fill="#1b408a"/>
<rect x="282.24" y="219.6" width="0.7" height="15.70" fill="#1b408a"/>
<rect x="284.35" y="219.6" width="0.7" height="15.70" fill="#1b408a"/>
<rect x="287.55" y="219.6" width="0.7" height="15.70" fill="#1b408a"/>
<rect x="289.44" y="219.6" width="0.7" height="15.70" fill="#1b408a"/>
<rect x="291.33" y="219.6" width="0.7" height="15.70" fill="#1b408a"/>
<rect x="293.22" y="219.6" width="0.7" height="15.70" fill="#1b408a"/>
<rect x="295.11" y="219.6" width="0.7" height="15.70" fill="#1b408a"/>
<rect x="297.00" y="219.6" width="0.7" height="15.70" fill="#1b408a"/>
<rect x="298.89" y="219.6" width="0.7" height="15.70" fill="#1b408a"/>
<rect x="300.78" y="219.6" width="0.7" height="15.70" fill="#1b408a"/>
<rect x="302.67" y="219.6" width="0.7" height="15.70" fill="#1b408a"/>
<rect x="304.56" y="219.6" width="0.7" height="15.70" fill="#1b408a"/>
<rect x="306.45" y="219.6" width="0.7" height="15.70" fill="#1b408a"/>
<rect x="53.6" y="219.6" width="2.10" height="15.70" fill="#e8a035"/>
<rect x="57.8" y="219.6" width="6.60" height="15.70" fill="#e8a035"/>
<rect x="60.05" y="219.6" width="0.7" height="15.70" fill="#f29a16"/>
<rect x="62.17" y="219.6" width="0.7" height="15.70" fill="#f29a16"/>
<rect x="68.1" y="219.6" width="9.00" height="15.70" fill="#e8a035"/>
<rect x="68.51" y="219.6" width="0.7" height="15.70" fill="#f29a16"/>
<rect x="70.63" y="219.6" width="0.7" height="15.70" fill="#f29a16"/>
<rect x="72.75" y="219.6" width="0.7" height="15.70" fill="#f29a16"/>
<rect x="74.86" y="219.6" width="0.7" height="15.70" fill="#f29a16"/>
<rect x="79.1" y="219.6" width="2.30" height="15.70" fill="#e8a035"/>
<rect x="83.9" y="219.6" width="2.00" height="15.70" fill="#e8a035"/>
<rect x="90.0" y="219.6" width="2.40" height="15.70" fill="#e8a035"/>
<rect x="91.79" y="219.6" width="0.7" height="15.70" fill="#f29a16"/>
<rect x="109.5" y="219.6" width="2.00" height="15.70" fill="#e8a035"/>
<rect x="110.84" y="219.6" width="0.7" height="15.70" fill="#f29a16"/>
<rect x="238.9" y="219.6" width="4.10" height="15.70" fill="#e8a035"/>
<rect x="241.11" y="219.6" width="0.7" height="15.70" fill="#f29a16"/>
<text x="11" y="16.7" font-size="11.2" text-anchor="middle" fill="#000" font-weight="bold" class="b">A</text>
<text x="145.4" y="133.8" font-size="7.2" text-anchor="middle" fill="#111" >Median OS</text>
<text x="145.4" y="142.6" font-size="7.2" text-anchor="middle" fill="#111" >50 days</text>
<text x="145.4" y="151.4" font-size="7.2" text-anchor="middle" fill="#111" >(95%CI 36-75)</text>
<text x="253.5" y="26.1" font-size="7.2" text-anchor="middle" fill="#111" >Median OS</text>
<text x="253.5" y="34.9" font-size="7.2" text-anchor="middle" fill="#111" >74 days</text>
<text x="253.5" y="43.7" font-size="7.2" text-anchor="middle" fill="#111" >(95%CI 11-355)</text>
<text x="293.3" y="103.9" font-size="7.2" text-anchor="middle" fill="#111" >Median OS</text>
<text x="293.3" y="112.9" font-size="7.2" text-anchor="middle" fill="#111" >36 days</text>
<text x="293.3" y="121.3" font-size="7.2" text-anchor="middle" fill="#111" >(95%CI 8-96)</text>
<text x="271.6" y="134.8" font-size="7.2" text-anchor="middle" fill="#111" >Median OS</text>
<text x="271.6" y="143.2" font-size="7.2" text-anchor="middle" fill="#111" >17 days</text>
<text x="271.6" y="151.4" font-size="7.2" text-anchor="middle" fill="#111" >(95%CI 7-41)</text>
<text transform="translate(23.2,123.8) rotate(-90) scale(0.72,1)" font-size="9.2" text-anchor="middle" fill="#111" class="c">Survival after TA-TMA onset (d)</text>
<rect x="53.3" y="238.1" width="184.50" height="1.7" fill="#4d4d4d"/>
<rect x="238.9" y="238.1" width="22.70" height="1.7" fill="#4d4d4d"/>
<rect x="263.3" y="238.1" width="22.90" height="1.7" fill="#4d4d4d"/>
<rect x="288.0" y="238.1" width="20.30" height="1.7" fill="#4d4d4d"/>
<text x="145.35" y="248.9" font-size="7.75" text-anchor="middle" fill="#111" >Maintenance/Reduction of CNI</text>
<text x="244.4" y="248.6" font-size="7.75" text-anchor="middle" fill="#111" >Switch to</text>
<text x="244.3" y="258.2" font-size="7.75" text-anchor="middle" fill="#111" >other CNIs</text>
<text x="277.4" y="248.6" font-size="7.75" text-anchor="middle" fill="#111" >Switch</text>
<text x="277.6" y="258.2" font-size="7.75" text-anchor="middle" fill="#111" >to CS</text>
<text x="306.8" y="248.6" font-size="7.75" text-anchor="middle" fill="#111" >Increase</text>
<text x="306.9" y="258.2" font-size="7.75" text-anchor="middle" fill="#111" >of CS</text>
<text x="15" y="241.9" font-size="6.8" text-anchor="start" fill="#111" >Survival</text>
<rect x="15.1" y="246" width="5.8" height="3.8" fill="#e8961e"/>
<rect x="15.1" y="254.3" width="5.8" height="3.6" fill="#2c4a88"/>
<text x="24" y="250.2" font-size="7.0" text-anchor="start" fill="#111" >Alive</text>
<text x="24" y="258.4" font-size="7.0" text-anchor="start" fill="#111" >Death</text>
<text x="336.4" y="16.6" font-size="11" font-weight="bold" class="b" fill="#000">B</text>
<line x1="379.5" y1="27.2" x2="379.5" y2="218" stroke="#111" stroke-width="1"/>
<line x1="379" y1="217.5" x2="510.2" y2="217.5" stroke="#111" stroke-width="1"/>
<line x1="376.4" y1="34.20" x2="379" y2="34.20" stroke="#444" stroke-width="1"/>
<text transform="translate(373.6,37.10) scale(0.93,1)" font-size="8.2" text-anchor="end" fill="#111" class="t">1.00</text>
<line x1="376.4" y1="78.38" x2="379" y2="78.38" stroke="#444" stroke-width="1"/>
<text transform="translate(373.6,81.28) scale(0.93,1)" font-size="8.2" text-anchor="end" fill="#111" class="t">0.75</text>
<line x1="376.4" y1="122.55" x2="379" y2="122.55" stroke="#444" stroke-width="1"/>
<text transform="translate(373.6,125.45) scale(0.93,1)" font-size="8.2" text-anchor="end" fill="#111" class="t">0.50</text>
<line x1="376.4" y1="166.73" x2="379" y2="166.73" stroke="#444" stroke-width="1"/>
<text transform="translate(373.6,169.63) scale(0.93,1)" font-size="8.2" text-anchor="end" fill="#111" class="t">0.25</text>
<line x1="376.4" y1="210.90" x2="379" y2="210.90" stroke="#444" stroke-width="1"/>
<text transform="translate(373.6,213.80) scale(0.93,1)" font-size="8.2" text-anchor="end" fill="#111" class="t">0.00</text>
<line x1="385.60" y1="218" x2="385.60" y2="221.5" stroke="#444" stroke-width="1"/>
<text transform="translate(385.60,230.6) scale(0.93,1)" font-size="8.2" text-anchor="middle" fill="#111" class="t">0</text>
<line x1="405.20" y1="218" x2="405.20" y2="221.5" stroke="#444" stroke-width="1"/>
<text transform="translate(405.20,230.6) scale(0.93,1)" font-size="8.2" text-anchor="middle" fill="#111" class="t">2</text>
<line x1="424.80" y1="218" x2="424.80" y2="221.5" stroke="#444" stroke-width="1"/>
<text transform="translate(424.80,230.6) scale(0.93,1)" font-size="8.2" text-anchor="middle" fill="#111" class="t">4</text>
<line x1="444.40" y1="218" x2="444.40" y2="221.5" stroke="#444" stroke-width="1"/>
<text transform="translate(444.40,230.6) scale(0.93,1)" font-size="8.2" text-anchor="middle" fill="#111" class="t">6</text>
<line x1="464.00" y1="218" x2="464.00" y2="221.5" stroke="#444" stroke-width="1"/>
<text transform="translate(464.00,230.6) scale(0.93,1)" font-size="8.2" text-anchor="middle" fill="#111" class="t">8</text>
<line x1="483.60" y1="218" x2="483.60" y2="221.5" stroke="#444" stroke-width="1"/>
<text transform="translate(483.60,230.6) scale(0.93,1)" font-size="8.2" text-anchor="middle" fill="#111" class="t">10</text>
<line x1="503.20" y1="218" x2="503.20" y2="221.5" stroke="#444" stroke-width="1"/>
<text transform="translate(503.20,230.6) scale(0.93,1)" font-size="8.2" text-anchor="middle" fill="#111" class="t">12</text>
<text transform="translate(444.8,243) scale(0.70,1)" font-size="9.2" text-anchor="middle" fill="#111" class="c">Months after onset of TA-TMA</text>
<text transform="translate(352.4,122) rotate(-90) scale(0.70,1)" font-size="9.2" text-anchor="middle" fill="#111" class="c2">Overall survival</text>
<path d="M385.40,34.20 L385.40,36.40 L386.60,36.40 L387.30,45.00 L388.20,52.00 L389.00,60.00 L390.00,66.00 L391.50,72.00 L393.00,80.00 L394.50,88.00 L396.00,96.00 L396.70,100.50 L398.00,106.80 L399.40,114.00 L400.30,117.60 L401.50,119.60 L402.00,124.00 L403.00,125.80 L404.20,126.50 L405.20,130.00 L405.90,131.00 L406.50,134.00 L407.20,136.20 L408.50,137.00 L409.20,140.30 L411.00,141.00 L411.50,143.20 L415.80,143.40 L416.20,144.60 L419.50,144.80 L419.90,146.60 L423.30,146.80 L423.60,147.40 L426.00,147.40 L427.00,151.20 L429.00,151.40 L429.50,153.20 L431.20,153.40 L431.60,155.40 L438.60,155.40 L439.20,157.40 L442.20,157.60 L442.60,159.60 L444.20,159.80 L445.20,161.70 L450.60,161.70 L451.20,163.50 L454.60,163.60 L454.90,165.80 L464.30,165.80 L464.80,169.40 L465.60,169.60 L465.90,172.30 L496.90,172.30 L496.90,174.80" fill="none" stroke="#264b8f" stroke-width="1.3" stroke-linejoin="miter" stroke-linecap="butt"/>
<path d="M385.60,34.20 L386.70,34.20 L386.70,49.60 L387.80,49.60 L387.80,98.40 L390.00,98.40 L390.00,114.60 L391.10,114.60 L391.10,130.30 L392.10,130.30 L392.10,162.20 L399.20,162.20 L399.20,178.70 L400.20,178.70 L400.20,195.00 L436.00,195.00 L436.00,210.80" fill="none" stroke="#6cb447" stroke-width="1.35" stroke-linejoin="miter" stroke-linecap="butt"/>
<path d="M385.60,34.20 L389.40,34.20 L389.40,66.00 L394.20,66.00 L394.20,82.10 L400.00,82.10 L400.00,97.60 L402.60,97.60 L402.60,114.30 L410.00,114.30 L410.00,130.30 L430.00,130.30 L430.00,146.00 L439.40,146.00 L439.40,162.70 L500.40,162.70 L500.40,178.00" fill="none" stroke="#ae1240" stroke-width="1.35" stroke-linejoin="miter" stroke-linecap="butt"/>
<path d="M385.60,34.20 L388.40,34.20 L388.40,50.50 L389.30,50.50 L389.30,86.80 L393.60,86.80 L393.60,104.50 L397.00,104.50 L397.00,122.20 L397.80,122.20 L397.80,139.70 L398.80,139.70 L398.80,157.70 L416.70,157.70 L416.70,175.00 L428.60,175.00 L428.60,193.00 L464.00,193.00 L464.00,210.80" fill="none" stroke="#ea971f" stroke-width="1.35" stroke-linejoin="miter" stroke-linecap="butt"/>
<text x="426.9" y="127.6" font-size="7.2" text-anchor="start" fill="#111">Switch to other CNIs</text>
<text x="477.5" y="181.7" font-size="7.2" text-anchor="middle" fill="#111">Maintenance/</text>
<text x="476.7" y="190.0" font-size="7.2" text-anchor="middle" fill="#111">Reduction</text>
<text x="390.8" y="211.6" font-size="7.2" text-anchor="start" fill="#111">Switch to CS</text>
<text x="465.8" y="211.4" font-size="7.2" text-anchor="start" fill="#111">Increase of CS</text>
<rect x="0" y="0" width="520" height="1" fill="#000"/>
<rect x="0" y="0" width="1.15" height="267" fill="#000"/>
<rect x="518.7" y="0" width="1.3" height="267" fill="#000"/>
<rect x="0" y="265.8" width="520" height="1.2" fill="#000"/>
</svg>
</body></html>
